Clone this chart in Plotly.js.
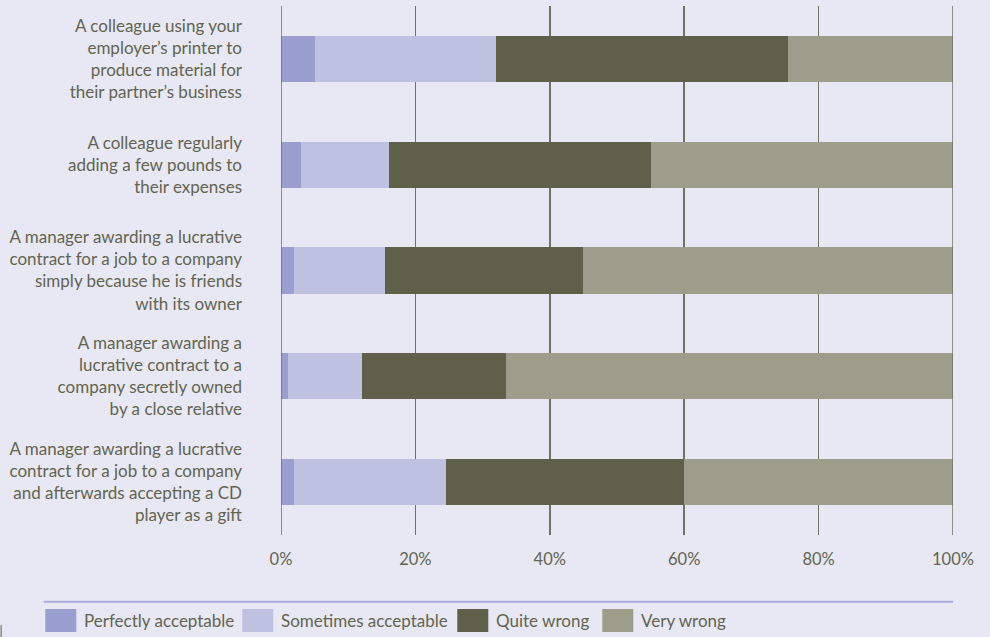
<!DOCTYPE html>
<html>
<head>
<meta charset="utf-8">
<script src="https://cdn.plot.ly/plotly-3.0.1.min.js"></script>
<style>
  html, body { margin: 0; padding: 0; background: #e8e8f4; }
  #chart { width: 990px; height: 637px; }
</style>
</head>
<body>
<div id="chart"></div>
<script>
// Scenarios (top to bottom)
const scenarios = [
  "A colleague using your<br>employer’s printer to<br>produce material for<br>their partner’s business",
  "A colleague regularly<br>adding a few pounds to<br>their expenses",
  "A manager awarding a lucrative<br>contract for a job to a company<br>simply because he is friends<br>with its owner",
  "A manager awarding a<br>lucrative contract to a<br>company secretly owned<br>by a close relative",
  "A manager awarding a lucrative<br>contract for a job to a company<br>and afterwards accepting a CD<br>player as a gift"
];

// Share of responses (%) per scenario
const perfectlyAcceptable = [5, 3, 2, 1, 2];
const sometimesAcceptable = [27, 13, 13.5, 11, 22.5];
const quiteWrong          = [43.5, 39, 29.5, 21.5, 35.5];
const veryWrong           = [24.5, 45, 55, 66.5, 40];

const seriesNames = ["Perfectly acceptable", "Sometimes acceptable", "Quite wrong", "Very wrong"];
const xTickValues = [0, 20, 40, 60, 80, 100];
const xTickLabels = ["0%", "20%", "40%", "60%", "80%", "100%"];

const colors = ["#9a9fcf", "#bec1e0", "#5e604a", "#9c9d8a"];
const textColor = "#62644f";
const gridColor = "#6f7161";
const fontFamily = "Lato, 'Open Sans', sans-serif";

const seriesValues = [perfectlyAcceptable, sometimesAcceptable, quiteWrong, veryWrong];

const traces = seriesValues.map((vals, i) => ({
  type: "bar",
  orientation: "h",
  name: seriesNames[i],
  x: vals,
  y: scenarios,
  width: 0.435,
  marker: { color: colors[i], line: { width: 0 } },
  hoverinfo: "name+x",
  showlegend: false
}));

const shapes = [
  // edge gridlines at 0% and 100%
  { type: "line", xref: "x", yref: "paper", x0: 0, x1: 0, y0: 0, y1: 1,
    layer: "above", line: { color: gridColor, width: 1.5 } },
  { type: "line", xref: "x", yref: "paper", x0: 100, x1: 100, y0: 0, y1: 1,
    layer: "above", line: { color: gridColor, width: 1.5 } },
  // rule above the legend row
  { type: "line", xref: "paper", yref: "paper",
    x0: -0.353, x1: 1.0, y0: -0.126, y1: -0.126,
    line: { color: "#a9acd6", width: 2 } },
  { type: "line", xref: "paper", yref: "paper",
    x0: -0.4165, x1: -0.4165, y0: -0.17, y1: -0.2,
    line: { color: "#5e604a", width: 1 } }
];

// Legend row drawn below the plot area
const annotations = [];
const plotL = 280.7, plotW = 672, plotT = 6, plotH = 529;
const swatchX = [45, 242, 457, 602];
const px2x = px => (px - plotL) / plotW;
const py2y = py => 1 - (py - plotT) / plotH;
seriesNames.forEach((name, i) => {
  shapes.push({
    type: "rect", xref: "paper", yref: "paper",
    x0: px2x(swatchX[i]), x1: px2x(swatchX[i] + 31),
    y0: py2y(632), y1: py2y(609),
    fillcolor: colors[i], line: { width: 0 }
  });
  annotations.push({
    xref: "paper", yref: "paper",
    x: px2x(swatchX[i] + 37), y: py2y(620.5),
    xanchor: "left", yanchor: "middle",
    text: name, showarrow: false,
    font: { family: fontFamily, size: 17, color: textColor }
  });
});

const layout = {
  width: 990,
  height: 637,
  margin: { l: 280.7, r: 37.3, t: 6, b: 102 },
  paper_bgcolor: "#e8e8f4",
  plot_bgcolor: "#e8e8f4",
  barmode: "stack",
  showlegend: false,
  font: { family: fontFamily, size: 16, color: textColor },
  xaxis: {
    range: [0, 100],
    tickvals: xTickValues,
    ticktext: xTickLabels,
    showgrid: true,
    gridcolor: gridColor,
    gridwidth: 1.5,
    zeroline: false,
    showline: false,
    ticks: "",
    ticklabelstandoff: 12,
    tickfont: { family: fontFamily, size: 16.5, color: textColor },
    fixedrange: true
  },
  yaxis: {
    autorange: "reversed",
    showgrid: false,
    zeroline: false,
    showline: false,
    ticks: "",
    ticklabelstandoff: 38,
    tickfont: { family: fontFamily, size: 17, color: textColor },
    fixedrange: true
  },
  shapes: shapes,
  annotations: annotations
};

Plotly.newPlot("chart", traces, layout, { displayModeBar: false, staticPlot: true });
</script>
</body>
</html>
